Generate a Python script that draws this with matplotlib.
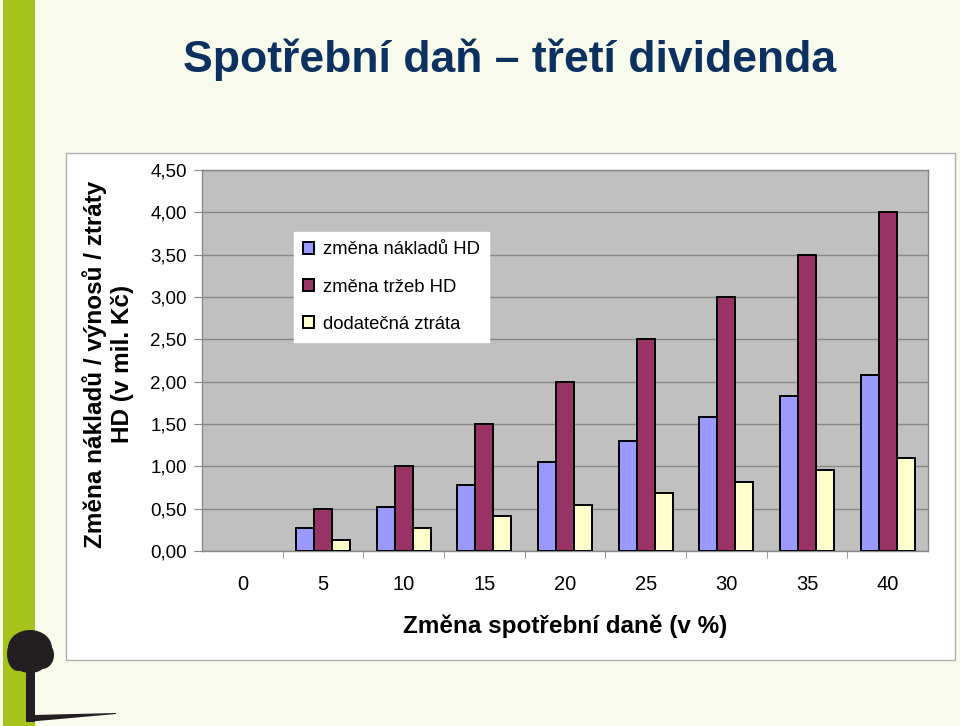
import numpy as np
import matplotlib
matplotlib.use('Agg')
import matplotlib.pyplot as plt
from matplotlib.patches import Rectangle, Ellipse, Polygon
from matplotlib.ticker import FixedLocator

# data
categories = ['0', '5', '10', '15', '20', '25', '30', '35', '40']
costs = [0, 0.27, 0.52, 0.78, 1.05, 1.30, 1.58, 1.835, 2.08]
revenue = [0, 0.50, 1.00, 1.50, 2.00, 2.50, 3.00, 3.50, 4.00]
extra_loss = [0, 0.135, 0.27, 0.41, 0.545, 0.68, 0.82, 0.957, 1.10]
series_names = ['změna nákladů HD', 'změna tržeb HD', 'dodatečná ztráta']
y_ticks = [0, 0.5, 1.0, 1.5, 2.0, 2.5, 3.0, 3.5, 4.0, 4.5]
y_tick_labels = ['0,00', '0,50', '1,00', '1,50', '2,00', '2,50', '3,00', '3,50', '4,00', '4,50']

plain = ['Liberation Sans', 'DejaVu Sans']

fig = plt.figure(figsize=(9.6, 7.26), dpi=100)
fig.patch.set_facecolor('#f8fbeb')


def px(xp, yp):
    # pixel coords (from top left) to figure fraction
    return (xp / 960, 1 - yp / 726)


# green stripe on the left
fig.add_artist(Rectangle((0.003, 0), 32 / 960, 1, transform=fig.transFigure,
                         facecolor='#a6c31c', edgecolor='none', zorder=0))

# tree silhouette
tree = '#231f20'
for cx, cy, ew, eh in [(30, 648, 44, 36), (18, 654, 22, 34), (42, 655, 24, 28), (30, 664, 30, 18)]:
    fig.add_artist(Ellipse(px(cx, cy), ew / 960, eh / 726, transform=fig.transFigure,
                           facecolor=tree, edgecolor='none'))
fig.add_artist(Rectangle(px(26, 722), 9 / 960, 60 / 726,
                         transform=fig.transFigure, facecolor=tree, edgecolor='none'))
fig.add_artist(Polygon([px(26, 722), px(116, 714), px(116, 713), px(33, 715)],
                       closed=True, transform=fig.transFigure, facecolor=tree, edgecolor='none'))

# white chart box
fig.add_artist(Rectangle(px(66, 660), 889 / 960, 507 / 726,
                         transform=fig.transFigure, facecolor='white',
                         edgecolor='#b0b0b0', linewidth=1, zorder=0.5))

fig.text(0.531, 1 - 60 / 726, 'Spotřební daň – třetí dividenda', ha='center', va='center',
         fontsize=32, fontweight='bold', color='#0c3060', family=plain)

ax = fig.add_axes([202 / 960, 1 - 551 / 726, 726 / 960, 381 / 726])
ax.set_zorder(2)
ax.set_facecolor('#c0c0c0')

x = np.arange(len(categories))
w = 0.223
b1 = ax.bar(x - w, costs, w, color='#9999ff', edgecolor='black', linewidth=1.4,
            label=series_names[0], zorder=3)
b2 = ax.bar(x, revenue, w, color='#993366', edgecolor='black', linewidth=1.4,
            label=series_names[1], zorder=3)
b3 = ax.bar(x + w, extra_loss, w, color='#ffffcc', edgecolor='black', linewidth=1.4,
            label=series_names[2], zorder=3)

ax.set_xlim(-0.5, len(categories) - 0.5)
ax.set_ylim(0, 4.5)
ax.set_yticks(y_ticks)
ax.set_yticklabels(y_tick_labels, family=plain, fontsize=13.5)
ax.yaxis.grid(True, color='#888888', linewidth=1)
ax.set_axisbelow(True)

ax.set_xticks(x)
ax.set_xticklabels(categories, family=plain, fontsize=14.5)
ax.xaxis.set_minor_locator(FixedLocator(np.arange(0.5, len(categories) - 0.5, 1)))
ax.tick_params(axis='x', which='major', length=0, pad=17)
ax.tick_params(axis='x', which='minor', length=5, color='#888888')
ax.tick_params(axis='y', length=6, color='#888888', pad=5)

for s in ax.spines.values():
    s.set_color('#888888')
    s.set_linewidth(1)

fig.text(565 / 960, 1 - 626 / 726, 'Změna spotřební daně (v %)', ha='center', va='center',
         fontsize=17.5, fontweight='bold', family=plain)
fig.text(108 / 960, 1 - 364 / 726, 'Změna nákladů / výnosů / ztráty\nHD (v mil. Kč)',
         ha='center', va='center', rotation=90, fontsize=17.5, fontweight='bold',
         family=plain, linespacing=1.2)

leg = ax.legend(loc='upper left', bbox_to_anchor=px(294, 232),
                bbox_transform=fig.transFigure, frameon=True, fancybox=False,
                prop={'family': plain, 'size': 13.3}, handlelength=0.6,
                handleheight=0.6, handletextpad=0.45, labelspacing=1.1,
                borderpad=0.5, borderaxespad=0)
leg.get_frame().set_edgecolor('white')
leg.get_frame().set_alpha(1)

# zero-height bars leave no outline (done after the legend so its keys keep edges)
for bars in (b1, b2, b3):
    for p in bars:
        if p.get_height() == 0:
            p.set_linewidth(0)

fig.savefig('out.png', dpi=100, facecolor=fig.get_facecolor())
